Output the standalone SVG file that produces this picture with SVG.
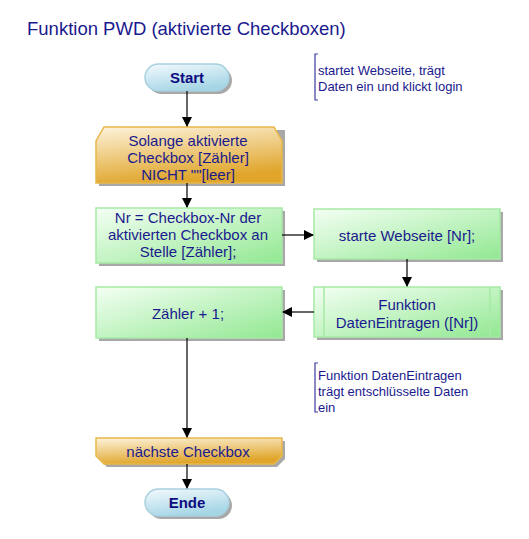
<svg xmlns="http://www.w3.org/2000/svg" width="529" height="539" viewBox="0 0 529 539">
<defs>
<linearGradient id="gGreen" x1="0" y1="0" x2="1" y2="1">
<stop offset="0" stop-color="#f4fff4"/>
<stop offset="1" stop-color="#92e892"/>
</linearGradient>
<linearGradient id="gOrange" x1="0" y1="0" x2="0.3" y2="1">
<stop offset="0" stop-color="#fdf3dc"/>
<stop offset="1" stop-color="#e0a52a"/>
</linearGradient>
<linearGradient id="gBlue" x1="0" y1="0" x2="0.4" y2="1">
<stop offset="0" stop-color="#f4fafd"/>
<stop offset="1" stop-color="#a6d6e6"/>
</linearGradient>
<marker id="arr" markerWidth="10" markerHeight="10" refX="9" refY="5" orient="auto" markerUnits="userSpaceOnUse">
<path d="M0,0 L10,5 L0,10 z" fill="#000"/>
</marker>
</defs>
<style>
text{font-family:"Liberation Sans",Arial,sans-serif;fill:#1a1a8e;}
.t{font-size:15px;text-anchor:middle;}
.c{font-size:13px;}
.term{font-size:15px;font-weight:bold;text-anchor:middle;fill:#0c0c80;}
.green{fill:url(#gGreen);stroke:#a6eaa6;stroke-width:1.5;}
.orange{fill:url(#gOrange);stroke:#e8b84a;stroke-width:1.5;}
.blue{fill:url(#gBlue);stroke:#a8d0de;stroke-width:1.5;}
.sh{fill:#a8a8a8;}
.conn{stroke:#000;stroke-width:1.2;fill:none;}
.br{stroke:#3a3aa0;stroke-width:1.2;fill:none;}
</style>
<rect width="529" height="539" fill="#fff"/>
<text x="27" y="35" style="font-size:18.5px;">Funktion PWD (aktivierte Checkboxen)</text>

<g id="start">
<rect class="sh" x="148" y="67" width="84" height="27" rx="13.5"/>
<rect class="blue" x="145" y="64" width="84" height="27" rx="13.5"/>
<text class="term" x="187" y="83">Start</text>
</g>

<g id="loopStart">
<path class="sh" d="M107,130 L285,130 L285,186 L99,186 L99,145 z"/>
<path class="orange" d="M104,127 L274,127 L282,141 L282,183 L96,183 L96,141 z"/>
<text class="t" x="188" y="146">Solange aktivierte</text>
<text class="t" x="188" y="163">Checkbox [Zähler]</text>
<text class="t" x="188" y="180">NICHT ""[leer]</text>
</g>

<g id="nr">
<rect class="sh" x="99" y="211" width="186" height="55"/>
<rect class="green" x="96" y="208" width="186" height="55"/>
<text class="t" x="188" y="223">Nr = Checkbox-Nr der</text>
<text class="t" x="188" y="240">aktivierten Checkbox an</text>
<text class="t" x="188" y="257">Stelle [Zähler];</text>
</g>

<g id="starte">
<rect class="sh" x="317" y="212" width="186" height="50"/>
<rect class="green" x="314" y="209" width="186" height="50"/>
<text class="t" x="407" y="241">starte Webseite [Nr];</text>
</g>

<g id="funktion">
<rect class="sh" x="317" y="290" width="186" height="50"/>
<rect class="green" x="314" y="287" width="186" height="50"/>
<line x1="324" y1="287" x2="324" y2="337" stroke="#a6eaa6" stroke-width="1.5"/>
<line x1="490" y1="287" x2="490" y2="337" stroke="#a6eaa6" stroke-width="1.5"/>
<text class="t" x="407" y="310">Funktion</text>
<text class="t" x="407" y="328">DatenEintragen ([Nr])</text>
</g>

<g id="zaehler">
<rect class="sh" x="99" y="290" width="186" height="51"/>
<rect class="green" x="96" y="287" width="186" height="51"/>
<text class="t" x="188" y="319">Zähler + 1;</text>
</g>

<g id="loopEnd">
<path class="sh" d="M99,441 L285,441 L285,459 L277,467 L107,467 L99,459 z"/>
<path class="orange" d="M96,438 L282,438 L282,456 L274,464 L104,464 L96,456 z"/>
<text class="t" x="188" y="457">nächste Checkbox</text>
</g>

<g id="ende">
<rect class="sh" x="148" y="492" width="84" height="27" rx="13.5"/>
<rect class="blue" x="145" y="489" width="84" height="27" rx="13.5"/>
<text class="term" x="187" y="508">Ende</text>
</g>

<g id="comment1">
<path class="br" d="M318,54 L315,54 L315,100 L318,100"/>
<text class="c" x="318" y="75">startet Webseite, trägt</text>
<text class="c" x="318" y="91">Daten ein und klickt login</text>
</g>

<g id="comment2">
<path class="br" d="M318,363 L315,363 L315,412 L318,412"/>
<text class="c" x="318" y="380">Funktion DatenEintragen</text>
<text class="c" x="318" y="396">trägt entschlüsselte Daten</text>
<text class="c" x="318" y="412">ein</text>
</g>

<g id="connectors">
<line class="conn" x1="187" y1="91" x2="187" y2="126" marker-end="url(#arr)"/>
<line class="conn" x1="187" y1="183" x2="187" y2="207" marker-end="url(#arr)"/>
<line class="conn" x1="282" y1="235" x2="313" y2="235" marker-end="url(#arr)"/>
<line class="conn" x1="407" y1="259" x2="407" y2="286" marker-end="url(#arr)"/>
<line class="conn" x1="314" y1="312" x2="283" y2="312" marker-end="url(#arr)"/>
<line class="conn" x1="187" y1="338" x2="187" y2="437" marker-end="url(#arr)"/>
<line class="conn" x1="187" y1="464" x2="187" y2="488" marker-end="url(#arr)"/>
</g>
</svg>
